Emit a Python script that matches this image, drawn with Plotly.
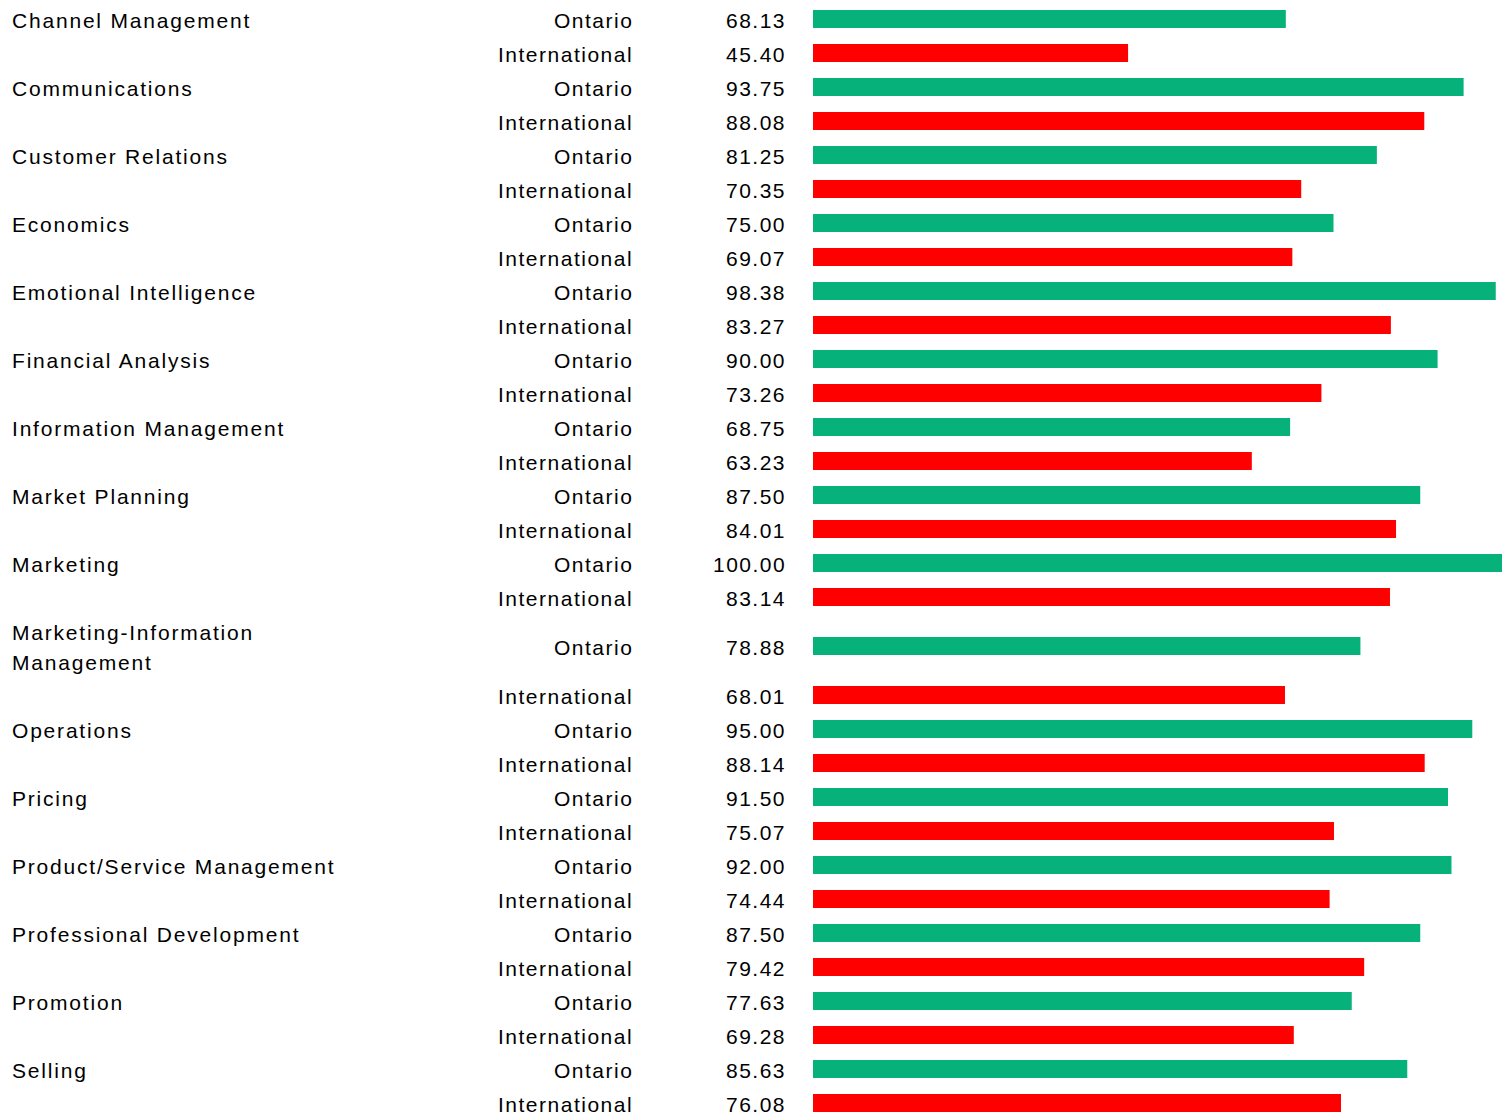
import plotly.graph_objects as go

categories = ["Channel Management", "Communications", "Customer Relations", "Economics",
              "Emotional Intelligence", "Financial Analysis", "Information Management",
              "Market Planning", "Marketing", "Marketing-Information<br>Management",
              "Operations", "Pricing", "Product/Service Management",
              "Professional Development", "Promotion", "Selling"]
regions = ["Ontario", "International"]
ontario = [68.13, 93.75, 81.25, 75.00, 98.38, 90.00, 68.75, 87.50, 100.00, 78.88,
           95.00, 91.50, 92.00, 87.50, 77.63, 85.63]
international = [45.40, 88.08, 70.35, 69.07, 83.27, 73.26, 63.23, 84.01, 83.14, 68.01,
                 88.14, 75.07, 74.44, 79.42, 69.28, 76.08]

PAGE_W, PAGE_H = 1510, 1116
OFF = 8                      # default body margin of the page
W, H = PAGE_W - OFF, PAGE_H - OFF
ROW = 34          # px per single-line row
LINE = 30         # extra px per additional label line
TOP = 3
BAR_W = 18
GREEN = "#07B27A"
RED = "#FF0000"
FONT = dict(family="Liberation Sans, Arial, sans-serif", size=21, color="#000000")


def px(xp):
    return (xp - OFF) / W


def spaced(t, ls):
    return f'<span style="letter-spacing:{ls}px">{t}</span>'


# compute row centers in page-pixel units
rows = []  # (cat_idx, region_idx, center)
y = TOP
for i, c in enumerate(categories):
    nlines = c.count("<br>") + 1
    for r in range(2):
        h = ROW + (LINE * (nlines - 1) if r == 0 else 0)
        rows.append((i, r, y + h / 2))
        y += h

fig = go.Figure()
vals = [ontario, international]
cols = [GREEN, RED]
for r in range(2):
    ys = [cy - 1 for (i, rr, cy) in rows if rr == r]
    xs = [vals[r][i] for (i, rr, cy) in rows if rr == r]
    fig.add_trace(go.Bar(x=xs, y=ys, orientation="h", width=BAR_W,
                         marker=dict(color=cols[r], line=dict(width=0)),
                         name=regions[r], hoverinfo="x", cliponaxis=False))

ann = []
for (i, r, cy) in rows:
    if r == 0:
        lines = categories[i].split("<br>")
        n = len(lines)
        for k, ln in enumerate(lines):
            ly = cy + (k - (n - 1) / 2) * LINE
            ann.append(dict(x=px(10), y=ly, xref="paper", yref="y", xanchor="left",
                            yanchor="middle", text=spaced(ln, 1.8), showarrow=False,
                            font=FONT, align="left"))
    ann.append(dict(x=px(635), y=cy, xref="paper", yref="y", xanchor="right",
                    yanchor="middle", text=spaced(regions[r], 1.5), showarrow=False,
                    font=FONT, align="right"))
    ann.append(dict(x=px(788), y=cy, xref="paper", yref="y", xanchor="right",
                    yanchor="middle", text=spaced(f"{vals[r][i]:.2f}", 1.5), showarrow=False,
                    font=FONT, align="right"))

fig.update_layout(
    width=W, height=H,
    margin=dict(l=0, r=0, t=0, b=0),
    paper_bgcolor="white", plot_bgcolor="white",
    showlegend=False, barmode="overlay",
    xaxis=dict(domain=[px(813), px(1507)], range=[0, 100], visible=False, fixedrange=True),
    yaxis=dict(range=[PAGE_H, OFF], visible=False, fixedrange=True),
    annotations=ann,
)

fig.write_html("out.html")
